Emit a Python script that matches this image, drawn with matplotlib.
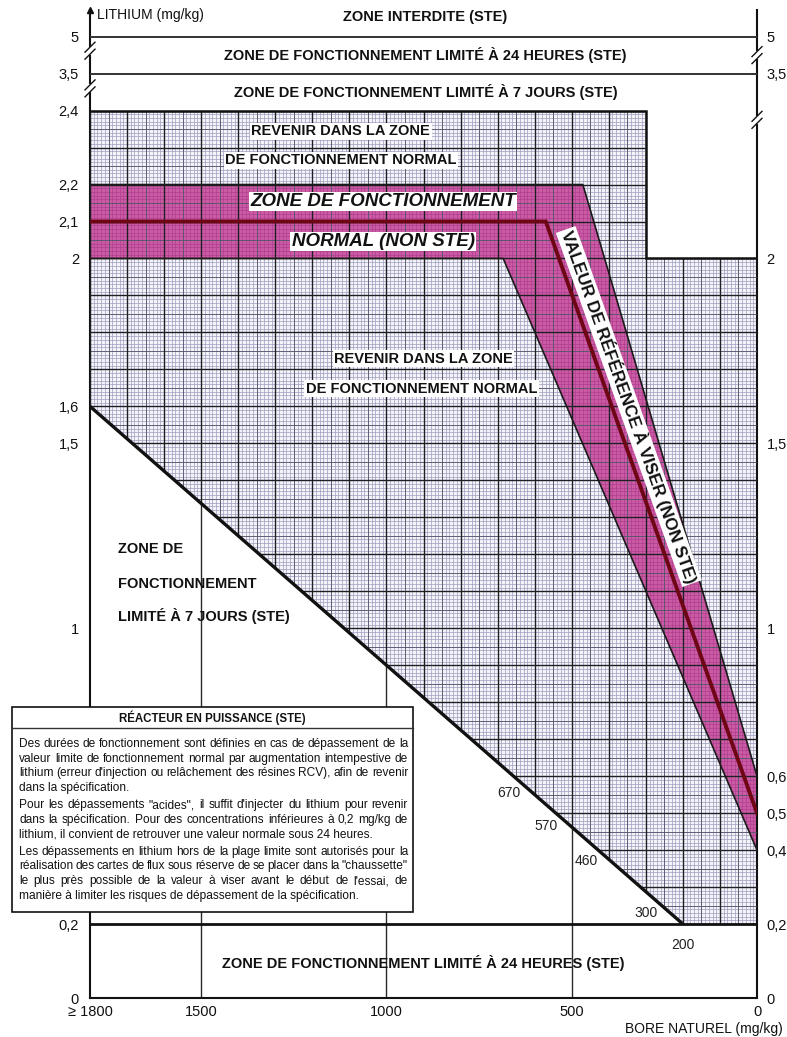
import numpy as np
import matplotlib
matplotlib.use('Agg')
import matplotlib.pyplot as plt
from matplotlib.collections import LineCollection
from matplotlib.patches import Polygon, Rectangle
from matplotlib.lines import Line2D
from matplotlib.transforms import IdentityTransform, offset_copy

plt.rcParams['font.family'] = ['Liberation Sans', 'DejaVu Sans']

# ---------------- data ----------------
boron_ticks = [1800, 1500, 1000, 500, 0]
boron_labels = ['≥ 1800', '1500', '1000', '500', '0']
li_ticks_left = [5, 3.5, 2.4, 2.2, 2.1, 2, 1.6, 1.5, 1, 0.2, 0]
li_ticks_right = [5, 3.5, 2, 1.5, 1, 0.6, 0.5, 0.4, 0.2, 0]
li_tickmarks_left = [1.5, 1]
li_tickmarks_right = [1.5, 1, 0.6, 0.5, 0.4]

li_forbidden = 5.0
li_24h_high = 3.5
li_7d_high = 2.4
li_24h_low = 0.2

grid_boron = [1800, 300, 300, 0, 0, 200, 1800]
grid_li = [2.4, 2.4, 2.0, 2.0, 0.2, 0.2, 1.6]

band_upper_boron = [1800, 470, 0]
band_upper_li = [2.2, 2.2, 0.6]
band_lower_boron = [1800, 685, 0]
band_lower_li = [2.0, 2.0, 0.4]
ref_boron = [1800, 570, 0]
ref_li = [2.1, 2.1, 0.5]

limit7_boron = [1800, 200]
limit7_li = [1.6, 0.2]

diag_labels = ['670', '570', '460', '300', '200']
diag_boron = [670, 570, 460, 300, 200]

white_zone_lines = [1500, 1000, 500]

box_title = "RÉACTEUR EN PUISSANCE (STE)"
box_paragraphs = [
    ["Des durées de fonctionnement sont définies en cas de dépassement de la",
     "valeur limite de fonctionnement normal par augmentation intempestive de",
     "lithium (erreur d'injection ou relâchement des résines RCV), afin de revenir",
     "dans la spécification."],
    ["Pour les dépassements \"acides\", il suffit d'injecter du lithium pour revenir",
     "dans la spécification. Pour des concentrations inférieures à 0,2 mg/kg de",
     "lithium, il convient de retrouver une valeur normale sous 24 heures."],
    ["Les dépassements en lithium hors de la plage limite sont autorisés pour la",
     "réalisation des cartes de flux sous réserve de se placer dans la \"chaussette\"",
     "le plus près possible de la valeur à viser avant le début de l'essai, de",
     "manière à limiter les risques de dépassement de la spécification."],
]

# ---------------- broken y scale ----------------
_T_DATA = [-10, 0, 2.4, 3.5, 5, 15]
_T_AX = [-10, 0, 2.4, 2.5, 2.6, 3.6]


def fwd(y):
    return np.interp(y, _T_DATA, _T_AX)


def inv(t):
    return np.interp(t, _T_AX, _T_DATA)


W, H = 787, 1037
fig = plt.figure(figsize=(W / 100, H / 100), dpi=100)
ax = fig.add_axes([90 / W, 1 - 998 / H, 667 / W, 988 / H])
ax.set_yscale('function', functions=(fwd, inv))
ax.set_xlim(1800, 0)
ymax = float(inv(2.672))
ax.set_ylim(0, ymax)

ax.spines['top'].set_visible(False)
for s in ['left', 'right', 'bottom']:
    ax.spines[s].set_linewidth(1.5)
    ax.spines[s].set_color('#111111')

# ---------------- graph paper region ----------------
grid_poly = Polygon(np.column_stack([grid_boron, grid_li]), closed=True,
                    facecolor='#f4f4f8', edgecolor='none', zorder=1)
ax.add_patch(grid_poly)

xs_all = np.arange(0, 1801, 10)
ys_all = np.round(np.arange(0, 2.4001, 0.01), 2)


def segs(xs, ys):
    out = [[(x, 0), (x, 2.4)] for x in xs]
    out += [[(1800, y), (0, y)] for y in ys]
    return out


xs_minor = [x for x in xs_all if x % 50 != 0]
ys_minor = [y for y in ys_all if round(y * 100) % 5 != 0]
xs_med = [x for x in xs_all if x % 50 == 0 and x % 100 != 0]
ys_med = [y for y in ys_all if round(y * 100) % 5 == 0 and round(y * 100) % 10 != 0]
xs_maj = [x for x in xs_all if x % 100 == 0]
ys_maj = [y for y in ys_all if round(y * 100) % 10 == 0]

for xs, ys, col, lw, z in [(xs_minor, ys_minor, '#9d9dc2', 0.5, 2),
                           (xs_med, ys_med, '#55556e', 0.65, 3),
                           (xs_maj, ys_maj, '#1e1e26', 1.0, 4)]:
    lc = LineCollection(segs(xs, ys), colors=col, linewidths=lw, zorder=z)
    ax.add_collection(lc)
    lc.set_clip_path(grid_poly)

# pink "chaussette"
band_vertices = list(zip(band_upper_boron, band_upper_li)) + \
    list(zip(band_lower_boron[::-1], band_lower_li[::-1]))
band = Polygon(band_vertices, closed=True, facecolor='#b8127a', alpha=0.68,
               edgecolor='none', zorder=2.5)
ax.add_patch(band)

# ---------------- outlines ----------------
ax.plot([1800, 300, 300, 0], [li_7d_high, li_7d_high, 2.0, 2.0], color='#111111',
        lw=1.8, zorder=5, solid_joinstyle='miter')
ax.plot(limit7_boron, limit7_li, color='#111111', lw=2.4, zorder=5, solid_capstyle='butt')
ax.hlines(li_24h_low, 1800, 0, color='#111111', lw=2.0, zorder=5)
ax.hlines([li_forbidden, li_24h_high], 1800, 0, color='#333333', lw=1.4, zorder=5)
ax.plot(band_upper_boron, band_upper_li, color='#1a1a1a', lw=1.2, zorder=5)
ax.plot(band_lower_boron, band_lower_li, color='#1a1a1a', lw=1.2, zorder=5)
ax.plot(ref_boron, ref_li, color='#6e0616', lw=2.8, zorder=6, solid_joinstyle='miter')

diag_x = limit7_boron[::-1]
diag_y = limit7_li[::-1]
for x in white_zone_lines:
    ax.vlines(x, 0, np.interp(x, diag_x, diag_y), color='#2a2a2a', lw=1.0, zorder=1.5)

for lab, b in zip(diag_labels, diag_boron):
    ax.text(b, np.interp(b, diag_x, diag_y) - 0.058, lab, ha='center', va='center',
            fontsize=10, color='#222222', zorder=7)

# ---------------- zone texts ----------------
wbox = dict(facecolor='white', edgecolor='none', pad=1.2)
bold = dict(fontweight='bold', fontsize=10.5, color='#111111', ha='center', va='center', zorder=8)
ax.text(895, 5.52, "ZONE INTERDITE (STE)", **bold)
ax.text(895, 4.25, "ZONE DE FONCTIONNEMENT LIMITÉ À 24 HEURES (STE)", **bold)
ax.text(895, 2.95, "ZONE DE FONCTIONNEMENT LIMITÉ À 7 JOURS (STE)", **bold)
ax.text(1123, 2.344, "REVENIR DANS LA ZONE", bbox=wbox, **bold)
ax.text(1123, 2.266, "DE FONCTIONNEMENT NORMAL", bbox=wbox, **bold)
ax.text(900, 1.729, "REVENIR DANS LA ZONE", bbox=wbox, **bold)
ax.text(905, 1.648, "DE FONCTIONNEMENT NORMAL", bbox=wbox, **bold)
ax.text(900, 0.095, "ZONE DE FONCTIONNEMENT LIMITÉ À 24 HEURES (STE)", **bold)
left_kw = dict(bold)
left_kw['ha'] = 'left'
ax.text(1724, 1.214, "ZONE DE", **left_kw)
ax.text(1724, 1.119, "FONCTIONNEMENT", **left_kw)
ax.text(1724, 1.033, "LIMITÉ À 7 JOURS (STE)", **left_kw)

ital = dict(fontweight='bold', fontstyle='italic', fontsize=13.5, color='#111111',
            ha='center', va='center', zorder=8, bbox=dict(facecolor='white', edgecolor='none', pad=1.0))
ax.text(1009, 2.154, "ZONE DE FONCTIONNEMENT", **ital)
ax.text(1009, 2.046, "NORMAL (NON STE)", **ital)

# text along reference line
p0 = ax.transData.transform((ref_boron[1], ref_li[1]))
p1 = ax.transData.transform((ref_boron[2], ref_li[2]))
ang = np.degrees(np.arctan2(p1[1] - p0[1], p1[0] - p0[0]))
d = (p1 - p0) / np.hypot(*(p1 - p0))
perp = np.array([-d[1], d[0]])
if perp[0] < 0:
    perp = -perp
off = 16
li_mid = 1.585
b_mid = np.interp(li_mid, ref_li[::-1][:2], ref_boron[::-1][:2])
tr = offset_copy(ax.transData, fig=fig, x=perp[0] * off, y=perp[1] * off, units='dots')
ax.text(b_mid, li_mid, "VALEUR DE RÉFÉRENCE À VISER (NON STE)", transform=tr,
        rotation=ang, rotation_mode='anchor', ha='center', va='center',
        fontsize=12.3, fontweight='bold', color='#111111', zorder=8,
        bbox=dict(facecolor='white', edgecolor='none', pad=1.0))

# ---------------- ticks ----------------
fmt = lambda v: f"{v:g}".replace('.', ',')
ax.set_xticks(boron_ticks, boron_labels)
ax.tick_params(axis='x', length=0, pad=5, labelsize=10.5, labelcolor='#111111')
ax.set_yticks(li_ticks_left, [fmt(v) for v in li_ticks_left])
ax.set_yticks(li_tickmarks_left, minor=True)
ax.tick_params(axis='y', which='major', length=0, pad=8, labelsize=10.5, labelcolor='#111111')
ax.tick_params(axis='y', which='minor', length=12, width=1.0, direction='inout', color='#111111')
ax.xaxis.set_minor_locator(matplotlib.ticker.NullLocator())

ax2 = ax.twinx()
ax2.set_yscale('function', functions=(fwd, inv))
ax2.set_ylim(0, ymax)
for s in ax2.spines.values():
    s.set_visible(False)
ax2.set_yticks(li_ticks_right, [fmt(v) for v in li_ticks_right])
ax2.set_yticks(li_tickmarks_right, minor=True)
ax2.tick_params(axis='y', which='major', length=0, pad=7, labelsize=10.5, labelcolor='#111111')
ax2.tick_params(axis='y', which='minor', length=6, width=1.0, direction='out', color='#111111')

# arrow on top of lithium axis
ax.plot([1800], [ymax], marker='^', ms=4.5, color='#111111', clip_on=False, zorder=9)
fig.text(97 / W, 1 - 15 / H, "LITHIUM (mg/kg)", fontsize=10, va='center', ha='left', color='#111111')
fig.text(783 / W, 1 - 1029 / H, "BORE NATUREL (mg/kg)", fontsize=10, va='center', ha='right',
         color='#111111')


# axis break marks
def break_mark(xd, t):
    px, py = ax.transData.transform((xd, inv(t)))
    fig.add_artist(Rectangle((px - 3, py - 4), 6, 8, transform=IdentityTransform(),
                             facecolor='white', edgecolor='none', zorder=20))
    for o in (-3.5, 3.5):
        fig.add_artist(Line2D([px - 5, px + 5], [py + o - 5, py + o + 5],
                              transform=IdentityTransform(), color='#111111', lw=1.0, zorder=21))


break_mark(1800, 2.562)
break_mark(1800, 2.46)
break_mark(0, 2.55)
break_mark(0, 2.375)

# ---------------- info box ----------------
bx0, bx1, by0, by1 = 12, 413, 707, 912
fig.add_artist(Rectangle((bx0 / W, 1 - by1 / H), (bx1 - bx0) / W, (by1 - by0) / H,
                         transform=fig.transFigure, facecolor='white', edgecolor='#111111',
                         lw=1.2, zorder=10))
fig.text((bx0 + bx1) / 2 / W, 1 - 718 / H, box_title, fontsize=8.3, fontweight='bold',
         ha='center', va='center', zorder=11, color='#111111')
fig.add_artist(Line2D([bx0 / W, bx1 / W], [1 - 728 / H] * 2, transform=fig.transFigure,
                      color='#333333', lw=1.0, zorder=11))

renderer = fig.canvas.get_renderer()
tx0, tx1 = 19, 408
fs = 8.6


def place_line(text, py, justify):
    yd = 1 - py / H
    if not justify:
        fig.text(tx0 / W, yd, text, fontsize=fs, ha='left', va='center', zorder=11, color='#111111')
        return
    words = text.split(' ')
    objs = [fig.text(0, yd, w, fontsize=fs, ha='left', va='center', zorder=11, color='#111111')
            for w in words]
    widths = [o.get_window_extent(renderer).width for o in objs]
    gap = max((tx1 - tx0 - sum(widths)) / (len(words) - 1), 1.5)
    x = tx0
    for o, w in zip(objs, widths):
        o.set_x(x / W)
        x += w + gap


py = 744
for para in box_paragraphs:
    for i, line in enumerate(para):
        place_line(line, py, i < len(para) - 1)
        py += 14.6
    py += 2.8

fig.savefig('out.png', dpi=100)
